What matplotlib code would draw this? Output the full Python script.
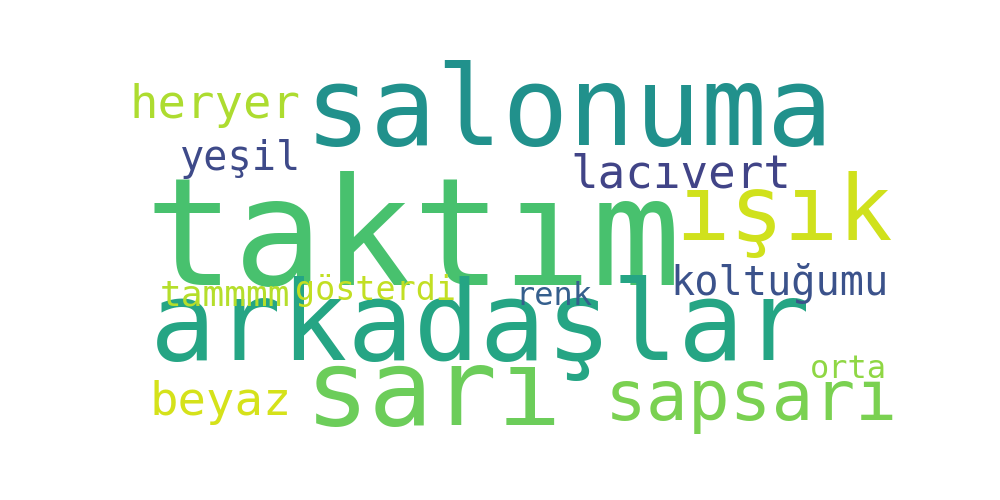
import matplotlib
matplotlib.use("Agg")
from matplotlib import pyplot as plt

# words and their relative weight (font size in pt)
words = ["taktım", "salonuma", "arkadaşlar", "sarı", "ışık", "sapsarı", "heryer",
         "lacıvert", "yeşil", "koltuğumu", "beyaz", "tammmm", "gösterdi", "renk", "orta"]
sizes = [107, 79, 79, 77, 65, 50, 34, 33, 29, 29, 34, 26, 24, 23, 23]

# layout: left x and baseline y in pixels of a 1000x500 canvas
pos_x = [145, 305, 150, 305, 675, 605, 130, 570, 180, 670, 150, 160, 295, 515, 810]
pos_y = [285, 145, 360, 425, 240, 420, 118, 188, 170, 295, 415, 305, 300, 305, 378]
colors = ["#48c16e", "#21918c", "#25a584", "#6ccd5a", "#d0e11c", "#7ad151", "#addc30",
          "#414487", "#3e4a89", "#3b528b", "#d5e21a", "#b5de2b", "#c2df23", "#355f8d", "#8fd744"]

fig = plt.figure(figsize=(10, 5), dpi=100)
ax = fig.add_axes([0, 0, 1, 1])
ax.set_xlim(0, 1000)
ax.set_ylim(500, 0)
ax.axis("off")

for w, s, x, y, c in zip(words, sizes, pos_x, pos_y, colors):
    ax.text(x, y, w, fontsize=s, color=c, family="DejaVu Sans Mono",
            ha="left", va="baseline")

plt.savefig("out.png")
plt.close(fig)
